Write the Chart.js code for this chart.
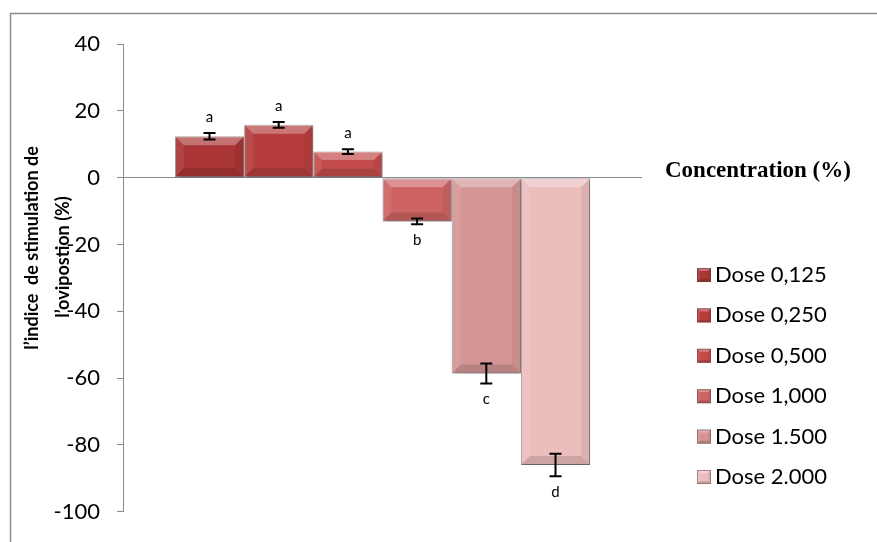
<!DOCTYPE html>
<html>
<head>
<meta charset="utf-8">
<script src="https://cdn.jsdelivr.net/npm/chart.js@4"></script>
<style>
  html, body { margin: 0; padding: 0; background: #ffffff; }
  #wrap { width: 877px; height: 542px; position: relative; }
</style>
</head>
<body>
<div id="wrap"><canvas id="c"></canvas></div>
<script>
// Oviposition stimulation index by dose
const categories = ['Concentration (%)'];
const doseLabels = ['Dose 0,125', 'Dose 0,250', 'Dose 0,500', 'Dose 1,000', 'Dose 1.500', 'Dose 2.000'];
const indexValues = [12.4, 15.8, 7.8, -13.1, -58.6, -86.0];
const errorValues = [1.0, 0.85, 0.7, 0.85, 3.0, 3.35];
const groupLetters = ['a', 'a', 'a', 'b', 'c', 'd'];
const yTicks = [40, 20, 0, -20, -40, -60, -80, -100];
const yTitleLines = ['l\u2019indice  de stimulation de', 'l\u2019ovipostion (%)'];

const doseColors = ['#a93535', '#b63d3d', '#c44b4b', '#cd6363', '#d59595', '#ebbdbd'];
const AXIS_GREY = '#8a8a8a';
const SANS = 'Lato, "Open Sans", "DejaVu Sans", sans-serif';

const datasets = doseLabels.map((lab, i) => ({
  label: lab,
  data: [indexValues[i]],
  backgroundColor: doseColors[i],
  borderColor: 'rgba(95,60,60,0.55)',
  borderWidth: 1,
  borderSkipped: false
}));

// outer frame lines (top and left)
const framePlugin = {
  id: 'frame',
  beforeDraw(chart) {
    const ctx = chart.ctx;
    ctx.save();
    ctx.strokeStyle = '#8c8c8c';
    ctx.lineWidth = 1.5;
    ctx.beginPath();
    ctx.moveTo(10.5, 542);
    ctx.lineTo(10.5, 13.5);
    ctx.lineTo(877, 13.5);
    ctx.stroke();
    ctx.restore();
  }
};

function bevel(ctx, l, t, r, b, size) {
  const w = r - l, h = b - t;
  const s = Math.min(size, w / 3, h / 3);
  ctx.save();
  ctx.fillStyle = 'rgba(255,255,255,0.30)';
  ctx.beginPath();
  ctx.moveTo(l, t); ctx.lineTo(r, t); ctx.lineTo(r - s, t + s); ctx.lineTo(l + s, t + s); ctx.closePath();
  ctx.fill();
  ctx.fillStyle = 'rgba(0,0,0,0.13)';
  ctx.beginPath();
  ctx.moveTo(l, b); ctx.lineTo(r, b); ctx.lineTo(r - s, b - s); ctx.lineTo(l + s, b - s); ctx.closePath();
  ctx.fill();
  ctx.fillStyle = 'rgba(255,255,255,0.08)';
  ctx.beginPath();
  ctx.moveTo(l, t); ctx.lineTo(l + s, t + s); ctx.lineTo(l + s, b - s); ctx.lineTo(l, b); ctx.closePath();
  ctx.fill();
  ctx.fillStyle = 'rgba(0,0,0,0.06)';
  ctx.beginPath();
  ctx.moveTo(r, t); ctx.lineTo(r - s, t + s); ctx.lineTo(r - s, b - s); ctx.lineTo(r, b); ctx.closePath();
  ctx.fill();
  ctx.restore();
}

// soft shadow under the bars
const shadowPlugin = {
  id: 'barShadow',
  beforeDatasetsDraw(chart) {
    const ctx = chart.ctx;
    ctx.save();
    ctx.shadowColor = 'rgba(0,0,0,0.35)';
    ctx.shadowBlur = 4;
    ctx.shadowOffsetX = 2;
    ctx.shadowOffsetY = 2;
  },
  afterDatasetsDraw(chart) {
    chart.ctx.restore();
  }
};

// bevel, error bars and significance letters
const decorPlugin = {
  id: 'decor',
  afterDatasetsDraw(chart) {
    const ctx = chart.ctx;
    const y = chart.scales.y;
    chart.data.datasets.forEach((ds, i) => {
      const bar = chart.getDatasetMeta(i).data[0];
      const half = bar.width / 2;
      const top = Math.min(bar.y, bar.base), bot = Math.max(bar.y, bar.base);
      bevel(ctx, bar.x - half, top, bar.x + half, bot, 9);

      const v = indexValues[i], e = errorValues[i];
      const yHi = y.getPixelForValue(v + e), yLo = y.getPixelForValue(v - e);
      ctx.save();
      ctx.strokeStyle = '#000';
      ctx.lineWidth = 2;
      ctx.beginPath();
      ctx.moveTo(bar.x, yHi); ctx.lineTo(bar.x, yLo);
      ctx.moveTo(bar.x - 6, yHi); ctx.lineTo(bar.x + 6, yHi);
      ctx.moveTo(bar.x - 6, yLo); ctx.lineTo(bar.x + 6, yLo);
      ctx.stroke();
      ctx.fillStyle = '#000';
      ctx.font = '15px ' + SANS;
      ctx.textAlign = 'center';
      ctx.textBaseline = 'middle';
      if (v >= 0) {
        ctx.fillText(groupLetters[i], bar.x, yHi - 16);
      } else {
        ctx.fillText(groupLetters[i], bar.x, yLo + 16);
      }
      ctx.restore();
    });
  }
};

// axis title, category label and legend
const textPlugin = {
  id: 'texts',
  afterDraw(chart) {
    const ctx = chart.ctx;
    const area = chart.chartArea;
    const y = chart.scales.y;

    // y-axis title, two rotated lines
    ctx.save();
    ctx.fillStyle = '#000';
    ctx.font = 'bold 18px ' + SANS;
    ctx.textAlign = 'center';
    ctx.textBaseline = 'middle';
    [[32, 248], [63, 257]].forEach(([cx, cy], k) => {
      ctx.save();
      ctx.translate(cx, cy);
      ctx.rotate(-Math.PI / 2);
      ctx.fillText(yTitleLines[k], 0, 0);
      ctx.restore();
    });
    ctx.restore();

    // category label at the zero line
    ctx.save();
    ctx.fillStyle = '#000';
    ctx.font = 'bold 23px "Liberation Serif", "Times New Roman", serif';
    ctx.textAlign = 'left';
    ctx.textBaseline = 'middle';
    ctx.fillText(categories[0], area.right + 23, y.getPixelForValue(0) - 7);
    ctx.restore();

    // legend
    ctx.save();
    ctx.font = '22px ' + SANS;
    ctx.textBaseline = 'middle';
    ctx.textAlign = 'left';
    doseLabels.forEach((lab, i) => {
      const cy = 275 + i * 40.4;
      const bx = 697, by = cy - 7;
      ctx.fillStyle = doseColors[i];
      ctx.fillRect(bx, by, 14, 14);
      bevel(ctx, bx, by, bx + 14, by + 14, 3);
      ctx.strokeStyle = 'rgba(95,60,60,0.5)';
      ctx.lineWidth = 1;
      ctx.strokeRect(bx + 0.5, by + 0.5, 13, 13);
      ctx.fillStyle = '#000';
      ctx.fillText(lab, 715, cy);
    });
    ctx.restore();
  }
};

new Chart(document.getElementById('c'), {
  type: 'bar',
  data: { labels: categories, datasets },
  options: {
    responsive: true,
    maintainAspectRatio: false,
    animation: false,
    layout: { padding: { left: 0, right: 235, top: 44, bottom: 25 } },
    datasets: { bar: { categoryPercentage: 0.8, barPercentage: 1.0 } },
    plugins: { legend: { display: false }, tooltip: { enabled: false } },
    scales: {
      x: { display: false },
      y: {
        min: -100,
        max: 40,
        afterBuildTicks(scale) { scale.ticks = yTicks.map(v => ({ value: v })); },
        afterFit(scale) { scale.width = 123; },
        border: { display: true, color: AXIS_GREY, width: 1 },
        grid: {
          drawOnChartArea: true,
          color: ctx => (ctx.tick && ctx.tick.value === 0 ? AXIS_GREY : 'rgba(0,0,0,0)'),
          tickColor: AXIS_GREY,
          tickLength: 6,
          lineWidth: 1
        },
        ticks: {
          color: '#000',
          padding: 17,
          font: { family: SANS, size: 22 }
        }
      }
    }
  },
  plugins: [framePlugin, shadowPlugin, decorPlugin, textPlugin]
});
</script>
</body>
</html>
